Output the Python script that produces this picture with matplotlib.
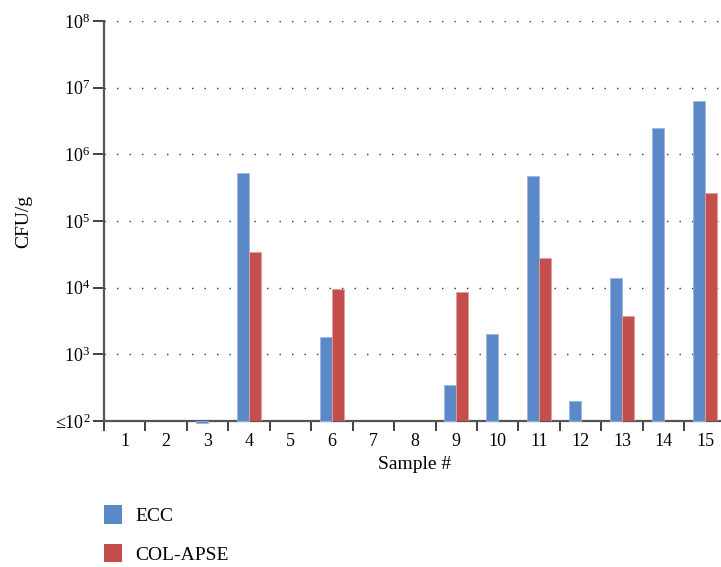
import matplotlib
matplotlib.use("Agg")
import matplotlib.pyplot as plt
from matplotlib.patches import Patch
import numpy as np

samples = [str(i) for i in range(1, 16)]
ecc = [0, 0, 93, 5.2e5, 0, 1800, 0, 0, 350, 2000, 4.8e5, 200, 1.4e4, 2.45e6, 6.3e6]
col_apse = [0, 0, 0, 3.4e4, 0, 9400, 0, 0, 8600, 0, 2.8e4, 0, 3750, 0, 2.6e5]
ytick_vals = [1e2, 1e3, 1e4, 1e5, 1e6, 1e7, 1e8]
ytick_labels = [r"≤$\mathregular{10^{2}}$", r"$\mathregular{10^{3}}$", r"$\mathregular{10^{4}}$",
                r"$\mathregular{10^{5}}$", r"$\mathregular{10^{6}}$", r"$\mathregular{10^{7}}$",
                r"$\mathregular{10^{8}}$"]

plt.rcParams['font.family'] = ['Liberation Serif', 'DejaVu Serif']
plt.rcParams['mathtext.fontset'] = 'custom'
plt.rcParams['mathtext.rm'] = 'Liberation Serif'

blue = '#5b88c6'
red = '#c44e4c'
base = 1e2

fig = plt.figure(figsize=(7.21, 5.67), dpi=100)
ax = fig.add_axes([104/721, 1-421/567, 621.7/721, 400/567])
ax.set_yscale('log')
ax.set_ylim(1e2, 1e8)
ax.set_xlim(0.5, 15.5)

x = np.arange(1, 16)
w = 0.29
ecc_x = [xi for xi, v in zip(x, ecc) if v > 0]
ecc_h = [v - base for v in ecc if v > 0]
col_x = [xi for xi, v in zip(x, col_apse) if v > 0]
col_h = [v - base for v in col_apse if v > 0]
ax.bar(np.array(ecc_x) - w/2, ecc_h, bottom=base, width=w, color=blue, edgecolor='#9bb8e0',
       linewidth=0.6, zorder=3, clip_on=False)
ax.bar(np.array(col_x) + w/2, col_h, bottom=base, width=w, color=red, edgecolor='#e0a0a0',
       linewidth=0.6, zorder=3)

for yv in ytick_vals[1:]:
    ax.axhline(yv, color='#333333', linestyle=(0, (1, 8)), linewidth=1.0, zorder=1)

ax.set_yticks(ytick_vals)
ax.set_yticklabels(ytick_labels, fontsize=13)
ax.yaxis.set_minor_locator(matplotlib.ticker.NullLocator())
ax.set_xticks(np.arange(0.5, 15.5, 1.0))
ax.set_xticklabels([])
ax.set_xticks(x, minor=True)
ax.set_xticklabels(samples, minor=True, fontsize=13)
ax.tick_params(axis='x', which='minor', length=0, pad=9)
ax.tick_params(axis='x', which='major', length=7, width=1.3, color='#333333', direction='out')
ax.tick_params(axis='y', which='major', length=8, width=1.3, color='#333333', pad=2)

for s in ['top', 'right']:
    ax.spines[s].set_visible(False)
for s in ['left', 'bottom']:
    ax.spines[s].set_color('#555555')
    ax.spines[s].set_linewidth(1.6)

ax.set_ylabel('CFU/g', fontsize=14, labelpad=16)
ax.set_xlabel('Sample #', fontsize=14, labelpad=4)

handles = [Patch(facecolor=blue, edgecolor='none', label='ECC'),
           Patch(facecolor=red, edgecolor='none', label='COL-APSE')]
fig.legend(handles=handles, loc='upper left', bbox_to_anchor=(104/721, 1-505/567),
           frameon=False, fontsize=14, handlelength=0.95, handleheight=1.1,
           handletextpad=0.65, labelspacing=0.97, borderpad=0, borderaxespad=0)

fig.savefig('out.png', dpi=100)
